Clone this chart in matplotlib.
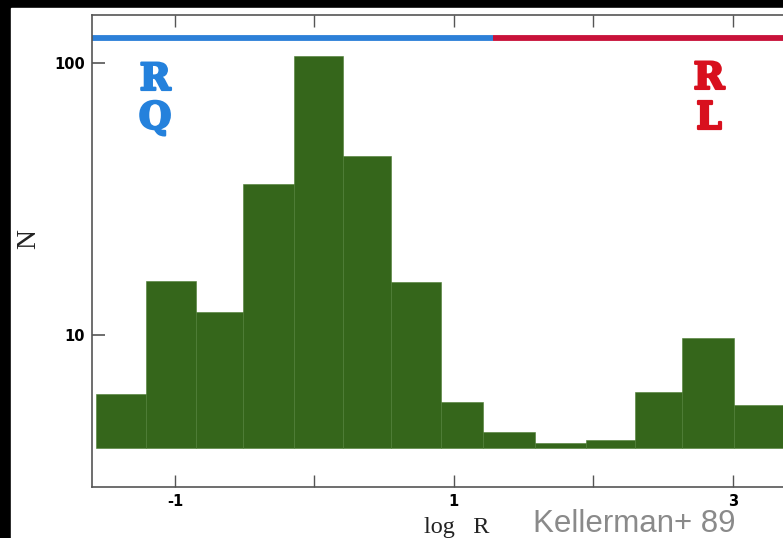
import numpy as np
import matplotlib
matplotlib.use("Agg")
import matplotlib.pyplot as plt
import matplotlib.patheffects as pe
from matplotlib.patches import Rectangle

# histogram (log R bins, N per bin)
bin_edges = [-1.57, -1.21, -0.85, -0.51, -0.15, 0.205, 0.55, 0.91,
             1.21, 1.58, 1.95, 2.30, 2.64, 3.01, 3.37]
counts = [6.1, 15.8, 12.2, 36.0, 106, 45.6, 15.7, 5.7,
          4.4, 4.0, 4.1, 6.2, 9.75, 5.55]
bar_floor = 3.86

# radio quiet / radio loud split shown as the coloured band on top
split_at = 1.28
band_level = 123.6

x_major = [-1, 1, 3]
x_minor = [0, 2]
y_ticks = [10, 100]

W, H = 783, 538
fig = plt.figure(figsize=(W / 100, H / 100), dpi=100)
fig.patch.set_facecolor("black")
fig.patches.append(Rectangle((11 / W, 0), 1 - 11 / W, 1 - 8 / H,
                             transform=fig.transFigure, color="white", zorder=-1))

ax = fig.add_axes([91.7 / W, 1 - 486.7 / H, 1 - 91.7 / W, (486.7 - 15) / H])
ax.set_yscale("log")
ax.set_xlim(-1.598, 3.361)
ax.set_ylim(2.77, 150.6)

edges = np.array(bin_edges)
vals = np.array(counts)
ax.bar(edges[:-1], vals - bar_floor, width=np.diff(edges), bottom=bar_floor,
       align="edge", color="#35661b", edgecolor="#4d7d33", linewidth=0.4)

ax.plot([-1.598, split_at], [band_level, band_level], color="#2d80d8",
        lw=4.2, solid_capstyle="butt", clip_on=False)
ax.plot([split_at, 3.40], [band_level, band_level], color="#c8123a",
        lw=4.2, solid_capstyle="butt", clip_on=False)

letter_kw = dict(family="DejaVu Serif", fontweight="heavy", fontsize=27,
                 ha="center", va="baseline")
blue, red = "#2481dc", "#d8101e"
for x, y, s, c in [(-1.143, 79.8, "R", blue), (-1.143, 57.5, "Q", blue),
                   (2.83, 80.5, "R", red), (2.83, 57.5, "L", red)]:
    ax.text(x, y, s, color=c, **letter_kw,
            path_effects=[pe.withStroke(linewidth=1.6, foreground=c)])

ax.set_xticks(x_major, labels=[str(v) for v in x_major],
              fontweight="bold", fontsize=10.5)
ax.set_xticks(x_minor, minor=True)
ax.set_yticks(y_ticks, labels=[str(v) for v in y_ticks],
              fontweight="bold", fontsize=10.5)
ax.yaxis.set_minor_locator(matplotlib.ticker.NullLocator())

for side in ["left", "top", "bottom"]:
    ax.spines[side].set_color("#555555")
    ax.spines[side].set_linewidth(1.2)
ax.spines["right"].set_visible(False)

ax.tick_params(axis="x", which="both", direction="in", length=8.5, width=1.0,
               color="#555555", top=True, pad=5)
ax.tick_params(axis="y", which="both", direction="in", length=9.5, width=1.2,
               color="#555555", pad=5)

fig.text(29 / W, 1 - 239 / H, "N", rotation=90, family="Liberation Serif",
         fontsize=20, ha="center", va="center", color="#222222")
fig.text(424 / W, 1 - 533 / H, "log   R", family="Liberation Serif",
         fontsize=17.5, ha="left", va="baseline", color="#222222")
fig.text(533 / W, 1 - 532 / H, "Kellerman+ 89", family="Liberation Sans",
         fontsize=22.5, ha="left", va="baseline", color="#8a8a8a")

fig.savefig("out.png", dpi=100)
